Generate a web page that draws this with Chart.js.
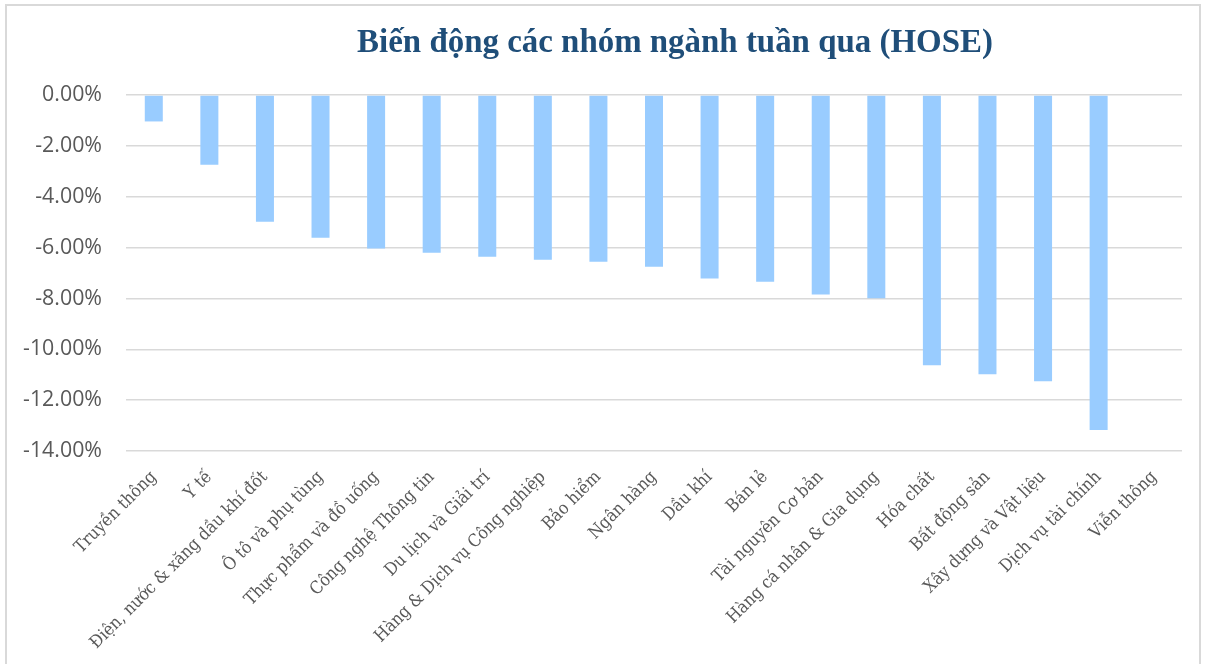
<!DOCTYPE html>
<html>
<head>
<meta charset="utf-8">
<script src="https://cdn.jsdelivr.net/npm/chart.js@4.4.1/dist/chart.umd.min.js"></script>
<style>
  html, body { margin: 0; padding: 0; background: #ffffff; }
  #wrap { position: relative; width: 1205px; height: 664px; overflow: hidden; }
  #frame { position: absolute; left: 5px; top: 4px; width: 1196px; height: 700px; border: 2px solid #d9d9d9; box-sizing: border-box; pointer-events: none; }
  canvas { position: absolute; left: 0; top: 0; }
</style>
</head>
<body>
<div id="wrap">
  <canvas id="c" width="1205" height="664"></canvas>
  <div id="frame"></div>
</div>
<script>
const categories = [
  "Truyền thông", "Y tế", "Điện, nước & xăng dầu khí đốt", "Ô tô và phụ tùng",
  "Thực phẩm và đồ uống", "Công nghệ Thông tin", "Du lịch và Giải trí",
  "Hàng & Dịch vụ Công nghiệp", "Bảo hiểm", "Ngân hàng", "Dầu khí", "Bán lẻ",
  "Tài nguyên Cơ bản", "Hàng cá nhân & Gia dụng", "Hóa chất", "Bất động sản",
  "Xây dựng và Vật liệu", "Dịch vụ tài chính", "Viễn thông"
];
const weeklyChange = [
  -1.04, -2.74, -4.98, -5.61, -6.04, -6.20, -6.36, -6.48, -6.56, -6.75,
  -7.22, -7.34, -7.85, -7.99, -10.63, -10.98, -11.26, -13.17, 0
];
const yTicks = [0, -2, -4, -6, -8, -10, -12, -14];
const chartTitle = "Biến động các nhóm ngành tuần qua (HOSE)";

// fit font sizes to the reference text widths
const mctx = document.createElement('canvas').getContext('2d');
function fitSize(family, weight, text, target) {
  mctx.font = weight + ' 100px ' + family;
  return 100 * target / mctx.measureText(text).width;
}
const titleFamily = '"Liberation Serif", serif';
const titleSize = fitSize(titleFamily, 'bold', chartTitle, 636);
const xFamily = '"DejaVu Serif Condensed", "DejaVu Serif", serif';
const xSize = fitSize(xFamily, 'normal', categories[2], 243);
const yFamily = '"Open Sans", sans-serif';
const ySize = fitSize(yFamily, 'normal', '-14.00%', 79);

const titlePlugin = {
  id: 'centeredTitle',
  afterDraw(chart) {
    const ctx = chart.ctx;
    ctx.save();
    ctx.font = 'bold ' + titleSize + 'px ' + titleFamily;
    ctx.fillStyle = '#1f4e79';
    ctx.textAlign = 'center';
    ctx.textBaseline = 'alphabetic';
    ctx.fillText(chartTitle, 675, 52);
    ctx.restore();
  }
};

new Chart(document.getElementById('c'), {
  type: 'bar',
  data: {
    labels: categories,
    datasets: [{
      data: weeklyChange,
      backgroundColor: '#99ccff',
      borderWidth: 0,
      barPercentage: 0.324,
      categoryPercentage: 1.0
    }]
  },
  plugins: [titlePlugin],
  options: {
    responsive: false,
    animation: false,
    layout: { padding: { left: 0, right: 23, top: 95, bottom: 0 } },
    plugins: {
      legend: { display: false },
      tooltip: { enabled: false },
      title: { display: false }
    },
    scales: {
      x: {
        grid: { display: false },
        border: { display: false },
        ticks: {
          color: '#595959',
          font: { family: xFamily, size: xSize },
          minRotation: 45,
          maxRotation: 45,
          autoSkip: false,
          padding: 8,
          labelOffset: 0
        },
        afterFit: (s) => { s.height = 213; }
      },
      y: {
        min: -14,
        max: 0,
        afterBuildTicks: (s) => { s.ticks = yTicks.map(v => ({ value: v })); },
        grid: { color: '#d9d9d9', lineWidth: 1.5, drawTicks: false },
        border: { display: false },
        ticks: {
          color: '#595959',
          font: { family: yFamily, size: ySize },
          padding: 24,
          callback: (v) => Number(v).toFixed(2) + '%'
        },
        afterFit: (s) => { s.width = 126; }
      }
    }
  }
});
</script>
</body>
</html>
